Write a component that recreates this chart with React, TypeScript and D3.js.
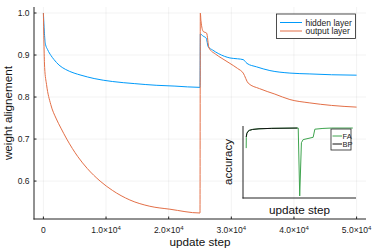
import React from "react";
import * as d3 from "d3";

// main plot: weight alignment per layer
const hiddenSteps = [0, 150, 300, 700, 1200, 1700, 2500, 3500, 4900, 6000, 8100, 11000, 14500, 18000, 21000, 25000,
  25050, 25500, 26000, 26300, 27000, 28000, 29780, 31000, 31900, 32500, 34000, 36160, 39350, 42540, 46000, 50000];
const hiddenVals = [1.0, 0.955, 0.928, 0.912, 0.899, 0.889, 0.876, 0.866, 0.857, 0.852, 0.844, 0.837, 0.832, 0.828, 0.826, 0.823,
  0.95, 0.945, 0.94, 0.92, 0.912, 0.903, 0.893, 0.891, 0.889, 0.88, 0.872, 0.863, 0.857, 0.855, 0.853, 0.852];

const outputSteps = [0, 100, 200, 500, 1180, 2000, 2800, 3730, 5500, 7000, 9050, 11000, 13800, 17000, 20200, 25000,
  25050, 25150, 25520, 26060, 26430, 27500, 28500, 29780, 31000, 31900, 32700, 34500, 36950, 39350, 42540, 46000, 50000];
const outputVals = [1.0, 0.92, 0.87, 0.83, 0.782, 0.75, 0.726, 0.7, 0.658, 0.63, 0.6, 0.578, 0.555, 0.54, 0.533, 0.524,
  1.0, 0.982, 0.956, 0.952, 0.917, 0.902, 0.892, 0.88, 0.868, 0.857, 0.833, 0.82, 0.807, 0.794, 0.786, 0.78, 0.776];

// inset: accuracy
const faSteps = [0, 50, 300, 800, 1500, 3000, 6000, 12000, 24400, 25100, 25900, 26700, 31400, 32200, 36000, 40000, 50000];
const faVals = [0.72, 0.86, 0.91, 0.935, 0.95, 0.962, 0.97, 0.976, 0.98, 0.1, 0.79, 0.83, 0.86, 0.965, 0.975, 0.98, 0.98];
const bpSteps = [0, 300, 800, 1500, 3000, 6000, 12000, 24000];
const bpVals = [0.865, 0.91, 0.935, 0.95, 0.962, 0.97, 0.976, 0.98];

const xTicks = [0, 10000, 20000, 30000, 40000, 50000];
const yTicks = [0.6, 0.7, 0.8, 0.9, 1.0];

const BLUE = "#009AFA";
const ORANGE = "#E36F47";
const GREEN = "#3EA44E";
const FONT = "'Liberation Sans', Arial, sans-serif";

// Plots.jl style 3% padding each side
const widen = (lo: number, hi: number) => [lo - 0.03 * (hi - lo), hi + 0.03 * (hi - lo)];

const zip = (a: number[], b: number[]) => a.map((v, i) => [v, b[i]] as [number, number]);

export default function App() {
  const W = 374, H = 249;

  const x = d3.scaleLinear().domain(widen(0, 50000)).range([34, 366]);
  const yExt = d3.extent([...hiddenVals, ...outputVals]) as [number, number];
  const y = d3.scaleLinear().domain(widen(yExt[0], yExt[1])).range([219, 7]);

  const ix = d3.scaleLinear().domain(widen(0, 50000)).range([243, 356]);
  const iyExt = d3.extent([...faVals, ...bpVals]) as [number, number];
  const iy = d3.scaleLinear().domain(widen(iyExt[0], iyExt[1])).range([198, 126]);

  const line = d3.line<[number, number]>().x(d => x(d[0])).y(d => y(d[1])).curve(d3.curveMonotoneX);
  const iline = d3.line<[number, number]>().x(d => ix(d[0])).y(d => iy(d[1]));

  const [x0, x1] = x.range();
  const [y0, y1] = y.range();

  const fmt = (v: number) => {
    if (v === 0) return <tspan>0</tspan>;
    return (
      <>
        <tspan>{(v / 1e4).toFixed(1)}×10</tspan>
        <tspan dy={-3.5} fontSize={6}>4</tspan>
      </>
    );
  };

  return (
    <svg width={W} height={H} style={{ position: "absolute", left: 0, top: 0 }} fontFamily={FONT}>
      <rect width={W} height={H} fill="#fff" />

      {/* grid */}
      <g stroke="#000" strokeOpacity={0.1} strokeWidth={0.5}>
        {xTicks.map(t => <line key={t} x1={x(t)} x2={x(t)} y1={y1} y2={y0} />)}
        {yTicks.map(t => <line key={t} x1={x0} x2={x1} y1={y(t)} y2={y(t)} />)}
      </g>

      {/* axes */}
      <g stroke="#222" strokeWidth={1}>
        <line x1={x0} x2={x0} y1={y1} y2={y0 + 0.5} />
        <line x1={x0 - 0.5} x2={x1} y1={y0} y2={y0} />
        {xTicks.map(t => <line key={t} x1={x(t)} x2={x(t)} y1={y0} y2={y0 - 2.5} />)}
        {yTicks.map(t => <line key={t} x1={x0} x2={x0 + 2.5} y1={y(t)} y2={y(t)} />)}
      </g>

      <g fontSize={8.5} fill="#222">
        {yTicks.map(t => (
          <text key={t} x={29.5} y={y(t)} textAnchor="end" dominantBaseline="central">{t.toFixed(1)}</text>
        ))}
        {xTicks.map(t => (
          <text key={t} x={x(t)} y={233} textAnchor="middle">{fmt(t)}</text>
        ))}
      </g>

      <text x={(x0 + x1) / 2} y={245.5} textAnchor="middle" fontSize={11.7} fill="#111">update step</text>
      <text transform={`translate(11.5, ${(y0 + y1) / 2}) rotate(-90)`} textAnchor="middle" fontSize={11.7} fill="#111">
        weight alignement
      </text>

      {/* series */}
      <path d={line(zip(hiddenSteps, hiddenVals)) || ""} fill="none" stroke={BLUE} strokeWidth={1} />
      <path d={line(zip(outputSteps, outputVals)) || ""} fill="none" stroke={ORANGE} strokeWidth={1} />

      {/* legend */}
      <g>
        <rect x={276.5} y={14} width={79} height={24.5} fill="#fff" stroke="#222" strokeWidth={0.8} />
        <line x1={280} x2={302} y1={22.5} y2={22.5} stroke={BLUE} strokeWidth={1} />
        <line x1={280} x2={302} y1={31} y2={31} stroke={ORANGE} strokeWidth={1} />
        <text x={305.5} y={22.5} fontSize={8.5} dominantBaseline="central" fill="#222">hidden layer</text>
        <text x={305.5} y={31} fontSize={8.5} dominantBaseline="central" fill="#222">output layer</text>
      </g>

      {/* inset */}
      <g>
        <path d={iline(zip(faSteps, faVals)) || ""} fill="none" stroke={GREEN} strokeWidth={1} />
        <path d={iline(zip(bpSteps, bpVals)) || ""} fill="none" stroke="#111" strokeWidth={1} />
        <g stroke="#222" strokeWidth={1}>
          <line x1={243} x2={243} y1={126} y2={198.5} />
          <line x1={242.5} x2={356} y1={198} y2={198} />
        </g>
        <rect x={331} y={129} width={20} height={21} fill="#fff" stroke="#222" strokeWidth={0.8} />
        <line x1={332.5} x2={342} y1={136} y2={136} stroke={GREEN} strokeWidth={1} />
        <line x1={332.5} x2={342} y1={144} y2={144} stroke="#111" strokeWidth={1} />
        <text x={342.5} y={136} fontSize={7.5} dominantBaseline="central" fill="#222">FA</text>
        <text x={342.5} y={144} fontSize={7.5} dominantBaseline="central" fill="#222">BP</text>
        <text x={(243 + 356) / 2} y={214} textAnchor="middle" fontSize={11.7} fill="#111">update step</text>
        <text transform={`translate(232, 162) rotate(-90)`} textAnchor="middle" fontSize={11.5} fill="#111">accuracy</text>
      </g>
    </svg>
  );
}
